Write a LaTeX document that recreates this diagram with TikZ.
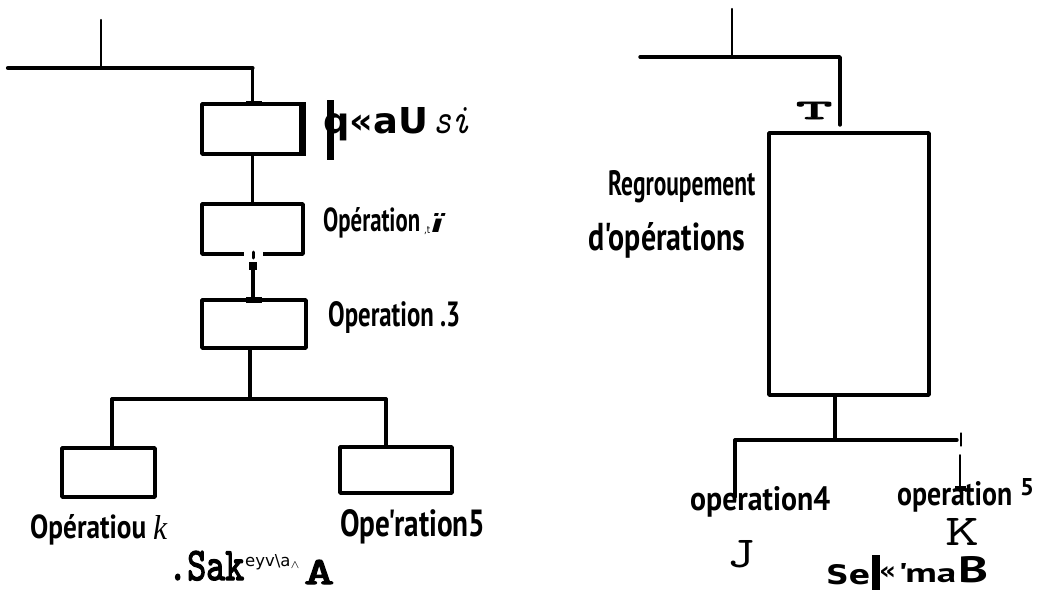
\documentclass[tikz,border=0pt]{standalone}
\usepackage{fontspec}
\usepackage{graphicx}
\setmainfont{Liberation Serif}
\newfontfamily\hand{PT Sans}
\newfontfamily\heavy{DejaVu Sans}
\newfontfamily\slab[FakeBold=3]{lmmono10-regular.otf}
% set a text to a given width and height above its baseline
\newcommand\fitbox[3]{\resizebox{#1pt}{#2pt}{#3}}
\begin{document}
\begin{tikzpicture}[x=1pt,y=-1pt,
  line cap=round, line join=round,
  opbox/.style={draw, line width=3.6pt, inner sep=0pt, rectangle},
  wire/.style={line width=3.4pt},
  thinwire/.style={line width=2.4pt},
  lbl/.style={inner sep=0pt, anchor=base west}]
\useasboundingbox (0,0) rectangle (1043,591);
\fill[white] (0,0) rectangle (1043,591);

% ---------- left diagram: sequence of operations ----------
\node[opbox, minimum width=101, minimum height=50] (b1) at (252.5,129) {};
\node[opbox, minimum width=101, minimum height=50] (b2) at (252.5,229) {};
\node[opbox, minimum width=104, minimum height=48] (b3) at (254,324) {};
\node[opbox, minimum width=93,  minimum height=49] (b4) at (108.5,472.5) {};
\node[opbox, minimum width=112, minimum height=46] (b5) at (396,470) {};

\coordinate (lw) at (8,68);
\coordinate (lt) at (252.5,68);
\coordinate (ltick) at (101,20);
\coordinate (lj) at (250,399);
\coordinate (la) at (112,399);
\coordinate (lb) at (386,399);
\coordinate (lgap) at (253,266);

\draw[wire, line width=4.2pt] (lw) -- (lt);
\draw[thinwire] (ltick) -- (ltick |- lw);
\draw[wire] (lt) -- (b1.north);
\draw[wire] (b1.south) -- (b2.south |- b1.south) -- (b2.north);
% broken link under the second box
\fill[white] (244,251) rectangle (263,258);
\draw[line width=3pt] (253,252) -- (253,258);
\draw[wire] (lgap) -- (lgap |- b3.north);
\fill (249,262) rectangle (257,270);
\fill (246,297) rectangle (262,303);
\fill (246,101) rectangle (262,106);
% right bracket of the first box
\fill (299,102) rectangle (306,156);
\draw[wire] (b3.south -| lj) -- (lj);
\draw[wire] (la) -- (lb);
\draw[wire] (la) -- (la |- b4.north);
\draw[wire] (lb) -- (lb |- b5.north);

% ---------- left labels ----------
\node[lbl] (t1) at (323,133) {\fitbox{105}{26}{\heavy\bfseries q«aU}};
\fill (327,100) rectangle (334,160);
\node[lbl] (t1b) at (433,133) {\fitbox{37}{26}{\ttfamily\itshape si}};
\node[lbl] (t2) at (323,231) {\fitbox{97}{24}{\hand\bfseries Opération}};
\node[lbl] (t2a) at (424,233) {\fitbox{6}{7}{\heavy ,t}};
\node[lbl] (t2b) at (431,232) {\fitbox{12}{19}{\heavy\bfseries\itshape ï}};
\node[lbl] (t3) at (328,326) {\fitbox{132}{25}{\hand\bfseries Operation .3}};
\node[lbl] (t4) at (30,538) {\fitbox{116}{24}{\hand\bfseries Opératiou}};
\node[lbl] (t4b) at (153,539) {\fitbox{14}{24}{\itshape k}};
\node[lbl] (t5) at (340,536) {\fitbox{145}{27}{\hand\bfseries Ope'ration5}};
\node[lbl] (ta) at (168,580) {\fitbox{76}{29}{\slab .Sak}};
\node[lbl] (ta2) at (245,566) {\fitbox{55}{12}{\heavy eyv\textbackslash a$_\wedge$}};
\node[lbl] (ta3) at (304,584) {\fitbox{30}{24}{\slab A}};

% ---------- right diagram: grouped operations ----------
\node[opbox, minimum width=160, minimum height=262] (big) at (849,264) {};

\coordinate (rw) at (640,57);
\coordinate (rt) at (840,57);
\coordinate (rtick) at (732,9);
\coordinate (rdown) at (840,125);
\coordinate (rj) at (835,440);
\coordinate (ra) at (735,440);
\coordinate (rb) at (957,440);
\coordinate (rc) at (735,497);
\coordinate (rm) at (960,455);
\coordinate (rn) at (960,488);

\draw[wire] (rw) -- (rt) -- (rdown);
\draw[thinwire] (rtick) -- (rtick |- rw);
\draw[wire] (big.south -| rj) -- (rj);
\draw[wire] (ra) -- (rb);
\draw[wire] (ra) -- (rc);
\draw[line width=1.2pt] (961,433) -- (961,446);
\draw[line width=2pt] (rm) -- (rn);
\fill (955,486) rectangle (966,491);

% ---------- right labels ----------
\node[lbl] (tT) at (796,119) {\fitbox{36}{17}{\slab T}};
\node[lbl] (r1) at (608,195) {\fitbox{147}{25}{\hand\bfseries Regroupement}};
\node[lbl] (r2) at (588,250) {\fitbox{157}{28}{\hand\bfseries d'opérations}};
\node[lbl] (r3) at (690,510) {\fitbox{140}{24}{\hand\bfseries operation4}};
\node[lbl] (r4) at (897,505) {\fitbox{115}{24}{\hand\bfseries operation}};
\node[lbl] (r4b) at (1020,495) {\fitbox{14}{17}{\hand\bfseries 5}};
\node[lbl] (rJ) at (727,567) {\fitbox{28}{27}{\ttfamily J}};
\node[lbl] (rK) at (945,545) {\fitbox{34}{27}{\ttfamily K}};
\node[lbl] (rs) at (826,584) {\fitbox{44}{20}{\heavy\bfseries Se}};
\fill (872,555) rectangle (880,590);
\node[lbl] (rs2) at (879,579) {\fitbox{17}{13}{\heavy\bfseries «}};
\node[lbl] (rs3) at (898,582) {\fitbox{58}{19}{\hand\bfseries 'ma}};
\node[lbl] (rs4) at (958,582) {\fitbox{30}{26}{\hand\bfseries B}};
\end{tikzpicture}
\end{document}
